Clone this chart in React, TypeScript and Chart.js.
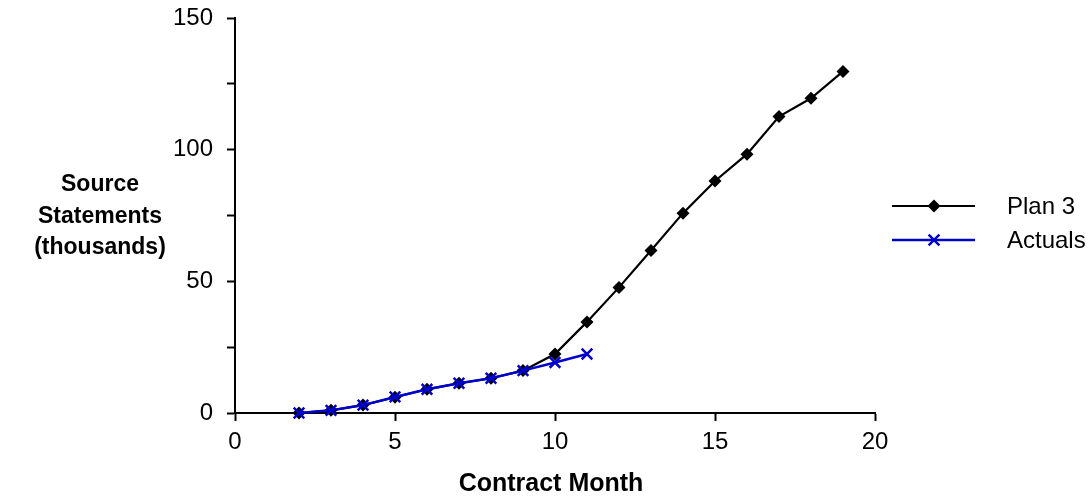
import React, { useEffect, useRef } from "react";
import { Chart, registerables } from "chart.js";

Chart.register(...registerables);

const planMonths = [2, 3, 4, 5, 6, 7, 8, 9, 10, 11, 12, 13, 14, 15, 16, 17, 18, 19];
const planValues = [0, 1, 3, 6, 9, 11.3, 13.2, 16.1, 22.4, 34.6, 47.7, 61.7, 75.9, 88.1, 98.3, 112.6, 119.5, 129.7];
const actualMonths = [2, 3, 4, 5, 6, 7, 8, 9, 10, 11];
const actualValues = [0, 1, 3, 6.1, 9, 11.3, 13.2, 16.1, 19.2, 22.4];
const seriesNames = ["Plan 3", "Actuals"];
const xTitle = "Contract Month";
const yTitleLines = ["Source", "Statements", "(thousands)"];

const FONT = "'Liberation Sans', Arial, sans-serif";
const BLUE = "#0000CC";

function drawMarker(ctx: CanvasRenderingContext2D, style: string, x: number, y: number, r: number, color: string) {
  ctx.save();
  if (style === "rectRot") {
    ctx.fillStyle = color;
    ctx.beginPath();
    ctx.moveTo(x, y - r);
    ctx.lineTo(x + r, y);
    ctx.lineTo(x, y + r);
    ctx.lineTo(x - r, y);
    ctx.closePath();
    ctx.fill();
  } else {
    ctx.strokeStyle = color;
    ctx.lineWidth = 2.5;
    const d = r * 0.72;
    ctx.beginPath();
    ctx.moveTo(x - d, y - d);
    ctx.lineTo(x + d, y + d);
    ctx.moveTo(x + d, y - d);
    ctx.lineTo(x - d, y + d);
    ctx.stroke();
  }
  ctx.restore();
}

const decorPlugin = {
  id: "decor",
  afterDraw(chart: any) {
    const ctx = chart.ctx as CanvasRenderingContext2D;
    const area = chart.chartArea;
    ctx.save();
    ctx.fillStyle = "#000";
    ctx.font = `bold 25px ${FONT}`;
    ctx.textAlign = "center";
    ctx.textBaseline = "middle";
    ctx.fillText(xTitle, (area.left + area.right) / 2 - 4, 484);
    ctx.font = `bold 23px ${FONT}`;
    yTitleLines.forEach((line, i) => {
      ctx.fillText(line, 100, 185 + i * 31.5);
    });
    const legendYs = [206, 240];
    chart.data.datasets.forEach((ds: any, i: number) => {
      const y = legendYs[i];
      ctx.strokeStyle = ds.borderColor;
      ctx.lineWidth = ds.borderWidth;
      ctx.beginPath();
      ctx.moveTo(892, y);
      ctx.lineTo(975, y);
      ctx.stroke();
      drawMarker(ctx, ds.pointStyle, 934, y, ds.pointRadius, ds.borderColor);
      ctx.fillStyle = "#000";
      ctx.font = `24px ${FONT}`;
      ctx.textAlign = "left";
      ctx.textBaseline = "middle";
      ctx.fillText(ds.label, 1007, y + 1);
    });
    ctx.restore();
  },
};

export default function App() {
  const ref = useRef<HTMLCanvasElement | null>(null);
  useEffect(() => {
    if (!ref.current) return;
    const chart = new Chart(ref.current, {
      type: "line",
      data: {
        datasets: [
          {
            label: seriesNames[0],
            data: planMonths.map((m, i) => ({ x: m, y: planValues[i] })),
            borderColor: "#000000",
            backgroundColor: "#000000",
            borderWidth: 2.2,
            pointStyle: "rectRot",
            pointRadius: 6.5,
            pointBorderWidth: 0,
            pointBackgroundColor: "#000000",
            order: 1,
            clip: false as any,
          },
          {
            label: seriesNames[1],
            data: actualMonths.map((m, i) => ({ x: m, y: actualValues[i] })),
            borderColor: BLUE,
            backgroundColor: BLUE,
            borderWidth: 2.5,
            pointStyle: "crossRot",
            pointRadius: 7.5,
            pointBorderWidth: 2.5,
            order: 0,
            clip: false as any,
          },
        ],
      },
      options: {
        animation: false,
        responsive: false,
        layout: { padding: { left: 0, top: 18, right: 213, bottom: 0 } },
        plugins: { legend: { display: false }, tooltip: { enabled: false } },
        scales: {
          x: {
            type: "linear",
            min: 0,
            max: 20,
            ticks: { stepSize: 5, color: "#000", font: { family: FONT, size: 24 }, padding: 7, maxRotation: 0 },
            grid: { drawOnChartArea: false, tickLength: 8, color: "#000", tickWidth: 2 },
            border: { display: true, color: "#000", width: 2 },
            afterFit: (s: any) => {
              s.height = 89;
              s.paddingLeft = 0;
              s.paddingRight = 0;
            },
          },
          y: {
            type: "linear",
            min: 0,
            max: 150,
            ticks: {
              stepSize: 25,
              color: "#000",
              font: { family: FONT, size: 24 },
              padding: 14,
              callback: (v: any) => (Number(v) % 50 === 0 ? String(v) : ""),
            },
            grid: { drawOnChartArea: false, tickLength: 8, color: "#000", tickWidth: 2 },
            border: { display: true, color: "#000", width: 2 },
            afterFit: (s: any) => {
              s.width = 235;
              s.paddingTop = 0;
              s.paddingBottom = 0;
            },
          },
        },
      },
      plugins: [decorPlugin],
    });
    return () => chart.destroy();
  }, []);
  return (
    <div style={{ position: "absolute", left: 0, top: 0, width: 1088, height: 502, background: "#fff" }}>
      <canvas ref={ref} width={1088} height={502} style={{ display: "block" }} />
    </div>
  );
}
